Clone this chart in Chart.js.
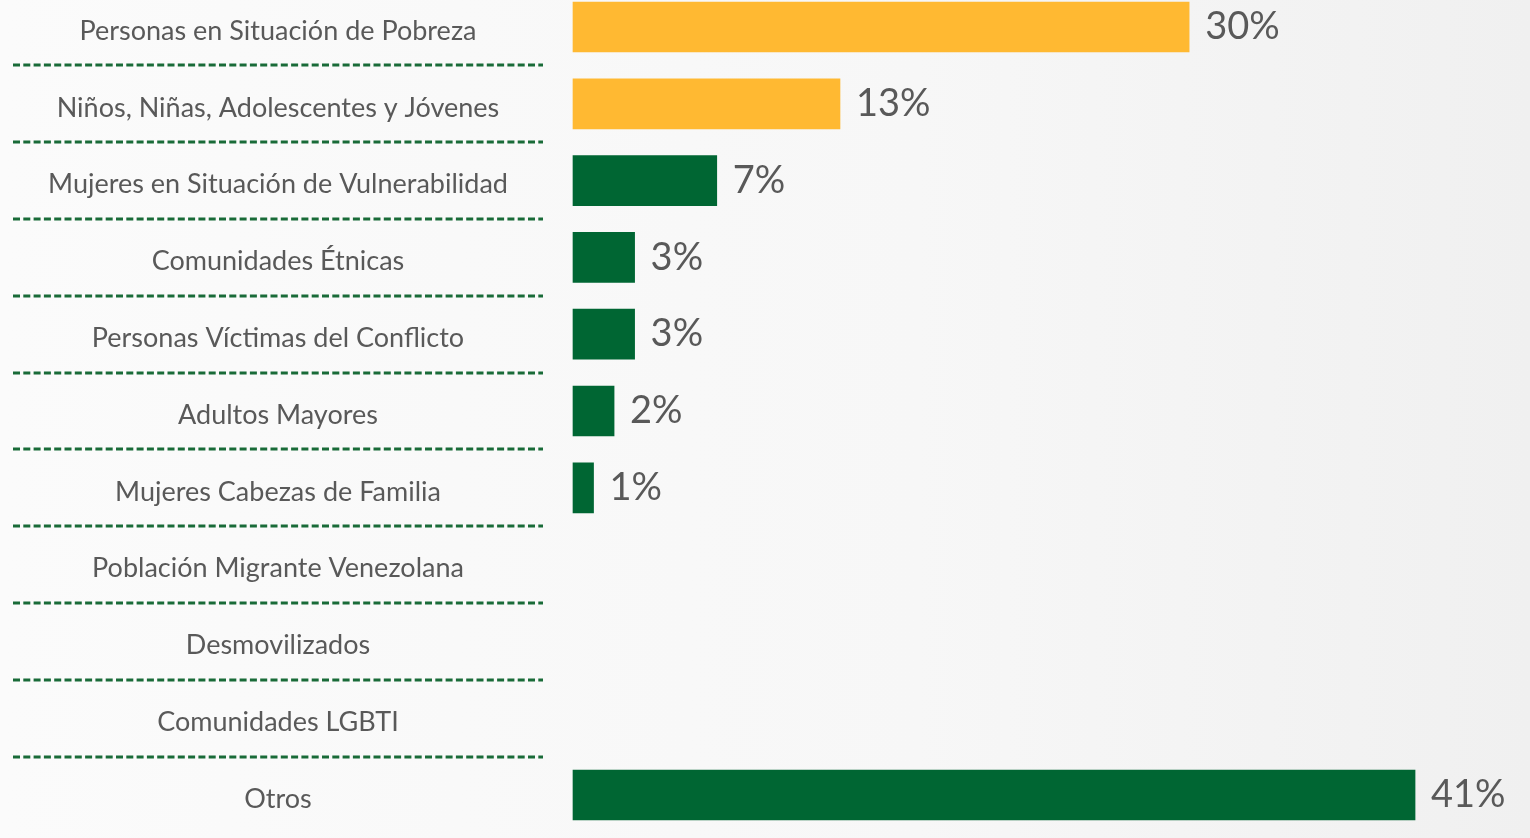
<!DOCTYPE html>
<html>
<head>
<meta charset="utf-8">
<script src="https://cdn.jsdelivr.net/npm/chart.js@4"></script>
<style>
  html, body { margin: 0; padding: 0; }
  body { width: 1530px; height: 838px; background: linear-gradient(to right, #fbfbfb, #f7f7f7 60%, #f0f0f0); }
  #wrap { width: 1530px; height: 838px; }
</style>
</head>
<body>
<div id="wrap"><canvas id="grafico"></canvas></div>
<script>
// Datos
const categorias = [
  'Personas en Situación de Pobreza',
  'Niños, Niñas, Adolescentes y Jóvenes',
  'Mujeres en Situación de Vulnerabilidad',
  'Comunidades Étnicas',
  'Personas Víctimas del Conflicto',
  'Adultos Mayores',
  'Mujeres Cabezas de Familia',
  'Población Migrante Venezolana',
  'Desmovilizados',
  'Comunidades LGBTI',
  'Otros'
];
const porcentajes = [30, 13, 7, 3, 3, 2, 1, 0, 0, 0, 41];
const destacados = [true, true, false, false, false, false, false, false, false, false, false];

const AMARILLO = '#FFB932';
const VERDE = '#006633';
const GRIS = '#595959';
const fuenteEtiquetas = '27px Lato';

// medir la etiqueta más ancha para centrar el texto en la columna izquierda
const ctxMedida = document.createElement('canvas').getContext('2d');
ctxMedida.font = fuenteEtiquetas;
const masAncha = Math.max(...categorias.map(c => ctxMedida.measureText(c).width));

// Líneas punteadas entre categorías
const separadores = {
  id: 'separadores',
  afterDraw(chart) {
    const y = chart.scales.y;
    const ctx = chart.ctx;
    ctx.save();
    ctx.strokeStyle = '#196B38';
    ctx.lineWidth = 3;
    ctx.setLineDash([7, 3.3]);
    for (let i = 0; i < categorias.length - 1; i++) {
      const py = Math.round((y.getPixelForValue(i) + y.getPixelForValue(i + 1)) / 2);
      ctx.beginPath();
      ctx.moveTo(13, py);
      ctx.lineTo(543, py);
      ctx.stroke();
    }
    ctx.restore();
  }
};

// Etiquetas de valor
const etiquetasValor = {
  id: 'etiquetasValor',
  afterDatasetsDraw(chart) {
    const ctx = chart.ctx;
    const meta = chart.getDatasetMeta(0);
    ctx.save();
    ctx.font = '38px Lato';
    ctx.fillStyle = GRIS;
    ctx.textAlign = 'left';
    ctx.textBaseline = 'middle';
    meta.data.forEach((barra, i) => {
      if (porcentajes[i] > 0) {
        ctx.fillText(porcentajes[i] + '%', barra.x + 16, barra.y);
      }
    });
    ctx.restore();
  }
};

const ctx = document.getElementById('grafico').getContext('2d');
const grafico = new Chart(ctx, {
  type: 'bar',
  data: {
    labels: categorias,
    datasets: [{
      data: porcentajes,
      backgroundColor: porcentajes.map((v, i) => v === 0 ? 'rgba(0,0,0,0)' : (destacados[i] ? AMARILLO : VERDE)),
      barThickness: 50,
      clip: false
    }]
  },
  options: {
    indexAxis: 'y',
    responsive: true,
    maintainAspectRatio: false,
    animation: false,
    layout: { padding: { top: 27, bottom: 43, left: 0, right: 2 } },
    plugins: { legend: { display: false }, tooltip: { enabled: false } },
    scales: {
      x: { display: false, min: 0, max: 46.5 },
      y: {
        offset: false,
        grid: {
          display: true,
          drawOnChartArea: false,
          drawTicks: true,
          tickLength: 295 - masAncha / 2,
          color: 'rgba(0,0,0,0)'
        },
        border: { display: false },
        afterFit(scale) { scale.width = 573; },
        ticks: {
          crossAlign: 'center',
          padding: 0,
          labelOffset: 4,
          color: GRIS,
          font: { family: 'Lato', size: 27 },
          autoSkip: false
        }
      }
    }
  },
  plugins: [separadores, etiquetasValor]
});
</script>
</body>
</html>
